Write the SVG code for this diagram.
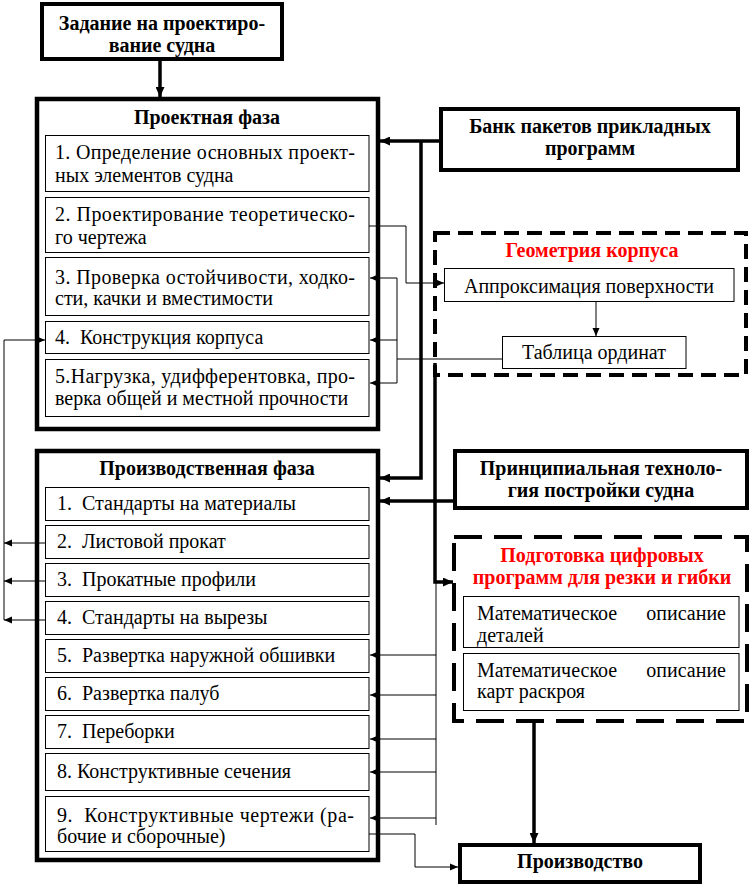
<svg xmlns="http://www.w3.org/2000/svg" width="752" height="889" viewBox="0 0 752 889" font-family="'Liberation Serif', 'DejaVu Serif', serif">
<style>
text{font-family:"Liberation Serif","DejaVu Serif",serif;font-size:20px;fill:#000}
.b{font-weight:bold}
.c{text-anchor:middle}
.e{text-anchor:end}
.red{fill:#f00}
.box{fill:#fff;stroke:#000;stroke-width:1}
.heavy{fill:#fff;stroke:#000;stroke-width:4}
.outer{fill:#fff;stroke:#000;stroke-width:4.5}
.dash1{fill:none;stroke:#000;stroke-width:4;stroke-dasharray:15 8}
.dash2{fill:none;stroke:#000;stroke-width:4;stroke-dasharray:28 12}
.thin{fill:none;stroke:#000;stroke-width:1}
.thick{fill:none;stroke:#000;stroke-width:3.5}
</style>
<defs>
<marker id="ak" markerUnits="userSpaceOnUse" markerWidth="11" markerHeight="9" refX="10" refY="4.5" orient="auto"><path d="M0,0 L10,4.5 L0,9 z" fill="#000"/></marker>
<marker id="an" markerUnits="userSpaceOnUse" markerWidth="9" markerHeight="8" refX="8" refY="4" orient="auto"><path d="M0,0.5 L8,4 L0,7.5 z" fill="#000"/></marker>
</defs>

<g id="zadanie">
<rect class="heavy" x="42" y="4" width="240" height="55"/>
<text class="b c" x="162" y="30">Задание на проектиро-</text>
<text class="b c" x="162" y="52">вание судна</text>
</g>

<g id="proekt-faza">
<rect class="outer" x="37" y="99" width="341" height="330"/>
<text class="b c" x="207" y="124">Проектная фаза</text>
</g>
<g id="p1">
<rect class="box" x="45.5" y="135.5" width="323.5" height="56"/>
<text x="55" y="159" textLength="300" lengthAdjust="spacing">1. Определение основных проект-</text>
<text x="55" y="182">ных элементов судна</text>
</g>
<g id="p2">
<rect class="box" x="45.5" y="197.5" width="323.5" height="55"/>
<text x="55" y="221" textLength="300" lengthAdjust="spacing">2. Проектирование теоретическо-</text>
<text x="55" y="244">го чертежа</text>
</g>
<g id="p3">
<rect class="box" x="45.5" y="257.5" width="323.5" height="58"/>
<text x="55" y="284" textLength="300" lengthAdjust="spacing">3. Проверка остойчивости, ходко-</text>
<text x="55" y="305">сти, качки и вместимости</text>
</g>
<g id="p4">
<rect class="box" x="45.5" y="321.5" width="323.5" height="32"/>
<text x="55" y="344">4.&#160; Конструкция корпуса</text>
</g>
<g id="p5">
<rect class="box" x="45.5" y="359.5" width="323.5" height="57"/>
<text x="55" y="383" textLength="300" lengthAdjust="spacing">5.Нагрузка, удифферентовка, про-</text>
<text x="55" y="405">верка общей и местной прочности</text>
</g>

<g id="proizv-faza">
<rect class="outer" x="37" y="451" width="341" height="409"/>
<text class="b c" x="207" y="475">Производственная фаза</text>
</g>
<g id="m1"><rect class="box" x="45.5" y="487.5" width="323.5" height="33"/><text x="57" y="510">1.&#160; Стандарты на материалы</text></g>
<g id="m2"><rect class="box" x="45.5" y="525.5" width="323.5" height="33"/><text x="57" y="548">2.&#160; Листовой прокат</text></g>
<g id="m3"><rect class="box" x="45.5" y="563.5" width="323.5" height="33"/><text x="57" y="586">3.&#160; Прокатные профили</text></g>
<g id="m4"><rect class="box" x="45.5" y="601.5" width="323.5" height="33"/><text x="57" y="624">4.&#160; Стандарты на вырезы</text></g>
<g id="m5"><rect class="box" x="45.5" y="639.5" width="323.5" height="33"/><text x="57" y="662">5.&#160; Развертка наружной обшивки</text></g>
<g id="m6"><rect class="box" x="45.5" y="677.5" width="323.5" height="33"/><text x="57" y="700">6.&#160; Развертка палуб</text></g>
<g id="m7"><rect class="box" x="45.5" y="715.5" width="323.5" height="33"/><text x="57" y="738">7.&#160; Переборки</text></g>
<g id="m8"><rect class="box" x="45.5" y="753.5" width="323.5" height="37"/><text x="57" y="778">8. Конструктивные сечения</text></g>
<g id="m9"><rect class="box" x="45.5" y="796.5" width="323.5" height="55"/>
<text x="57" y="822" textLength="297" lengthAdjust="spacing">9.&#160; Конструктивные чертежи (ра-</text>
<text x="57" y="843">бочие и сборочные)</text></g>

<g id="bank">
<rect class="heavy" x="441" y="109" width="297" height="61"/>
<text class="b c" x="590" y="133">Банк пакетов прикладных</text>
<text class="b c" x="590" y="155">программ</text>
</g>

<g id="geometriya">
<rect class="dash1" x="435" y="233" width="311" height="142"/>
<text class="b c red" x="592" y="257">Геометрия корпуса</text>
</g>
<g id="approks">
<rect class="box" x="444.5" y="268.5" width="289.5" height="33"/>
<text class="c" x="589" y="293">Аппроксимация поверхности</text>
</g>
<g id="tablica">
<rect class="box" x="502.5" y="336.5" width="183.5" height="32"/>
<text class="c" x="594" y="359">Таблица ординат</text>
</g>

<g id="princip">
<rect class="heavy" x="455" y="451" width="292" height="57"/>
<text class="b c" x="601" y="475">Принципиальная техноло-</text>
<text class="b c" x="601" y="497">гия постройки судна</text>
</g>

<g id="podgotovka">
<rect class="dash2" x="454" y="537" width="293" height="184"/>
<text class="b c red" x="602" y="562">Подготовка цифровых</text>
<text class="b c red" x="602" y="584">программ для резки и гибки</text>
</g>
<g id="matdet">
<rect class="box" x="463.5" y="596.5" width="275.5" height="51"/>
<text x="477" y="620">Математическое</text>
<text class="e" x="726" y="620">описание</text>
<text x="477" y="642">деталей</text>
</g>
<g id="matkart">
<rect class="box" x="463.5" y="653.5" width="275.5" height="57"/>
<text x="477" y="677">Математическое</text>
<text class="e" x="726" y="677">описание</text>
<text x="477" y="698">карт раскроя</text>
</g>

<g id="proizvodstvo">
<rect class="heavy" x="460" y="845" width="240" height="37"/>
<text class="b c" x="580" y="868">Производство</text>
</g>

<g id="connectors">
<path class="thick" d="M160,61 V97" marker-end="url(#ak)"/>
<path class="thick" d="M439,141 H380" marker-end="url(#ak)"/>
<path class="thick" d="M421,141 V478 H380" marker-end="url(#ak)"/>
<path class="thick" d="M453,501 H380" marker-end="url(#ak)"/>
<path class="thick" d="M435,363 V582 H453" marker-end="url(#ak)"/>
<path class="thick" d="M534,723 V843" marker-end="url(#ak)"/>
<path class="thin" d="M436,582 V825"/>
<path class="thin" d="M436,655 H370" marker-end="url(#an)"/>
<path class="thin" d="M436,695 H370" marker-end="url(#an)"/>
<path class="thin" d="M436,739 H370" marker-end="url(#an)"/>
<path class="thin" d="M436,772 H370" marker-end="url(#an)"/>
<path class="thin" d="M436,818 H370" marker-end="url(#an)"/>
<path class="thin" d="M369,834 H415 V867 H458" marker-end="url(#an)"/>
<path class="thin" d="M369,226 H406 V283 H444" marker-end="url(#an)"/>
<path class="thin" d="M502,359 H397"/>
<path class="thin" d="M397,278 V383"/>
<path class="thin" d="M397,278 H370" marker-end="url(#an)"/>
<path class="thin" d="M397,340 H370" marker-end="url(#an)"/>
<path class="thin" d="M397,383 H370" marker-end="url(#an)"/>
<path class="thin" d="M596,302 V336" marker-end="url(#an)"/>
<path class="thin" d="M4,340 V620"/>
<path class="thin" d="M4,340 H45" marker-end="url(#an)"/>
<path class="thin" d="M45,543 H4" marker-end="url(#an)"/>
<path class="thin" d="M45,581 H4" marker-end="url(#an)"/>
<path class="thin" d="M45,620 H4" marker-end="url(#an)"/>
</g>
</svg>
